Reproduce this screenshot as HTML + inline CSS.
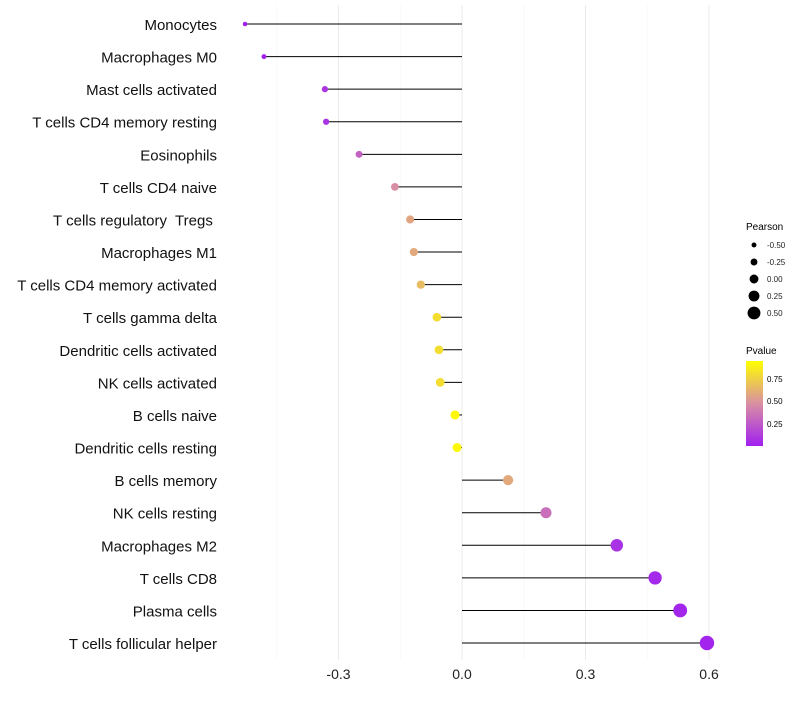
<!DOCTYPE html>
<html><head><meta charset="utf-8"><style>
body{margin:0;background:#fff;font-family:"Liberation Sans",sans-serif}
svg text{font-family:"Liberation Sans",sans-serif}
</style></head><body>
<svg id="chart" width="800" height="700" xmlns="http://www.w3.org/2000/svg">
<defs><linearGradient id="pg" x1="0" y1="1" x2="0" y2="0">
<stop offset="0" stop-color="#a020f0"/><stop offset="0.5" stop-color="#d98fa3"/><stop offset="1" stop-color="#ffff00"/>
</linearGradient></defs>
<g id="grid"></g><g id="marks"></g><g id="labels"></g><g id="xaxis"></g>
<g>
<text x="746" y="230" font-size="10">Pearson</text>
<g id="sizeLegend"></g>
<text x="746" y="354" font-size="10">Pvalue</text>
<rect x="746" y="361" width="17" height="85" fill="url(#pg)"/>
<text x="767" y="382" font-size="8">0.75</text>
<text x="767" y="404" font-size="8">0.50</text>
<text x="767" y="427" font-size="8">0.25</text>
</g>
</svg>
<script>
const categories=["Monocytes","Macrophages M0","Mast cells activated","T cells CD4 memory resting","Eosinophils","T cells CD4 naive","T cells regulatory  Tregs ","Macrophages M1","T cells CD4 memory activated","T cells gamma delta","Dendritic cells activated","NK cells activated","B cells naive","Dendritic cells resting","B cells memory","NK cells resting","Macrophages M2","T cells CD8","Plasma cells","T cells follicular helper"];
const pearson=[-0.527,-0.481,-0.333,-0.330,-0.250,-0.163,-0.126,-0.117,-0.100,-0.061,-0.056,-0.053,-0.017,-0.012,0.112,0.204,0.376,0.469,0.530,0.595];
const pvalue=[0.01,0.02,0.1,0.1,0.3,0.5,0.6,0.62,0.7,0.85,0.85,0.85,0.97,0.97,0.62,0.35,0.08,0.04,0.03,0.02];
const xTicks=[-0.3,0.0,0.3,0.6];
const xTickLabels=["-0.3","0.0","0.3","0.6"];
const minorTicks=[-0.45,-0.15,0.15,0.45];
const sizeLegendVals=[-0.5,-0.25,0,0.25,0.5];
const sizeLegendLabels=["-0.50","-0.25","0.00","0.25","0.50"];
const NS="http://www.w3.org/2000/svg";
const x=v=>462+v*411.7;
const y=i=>24+i*32.58;
const r=v=>4.6+4.4*v;
function col(p){
  const a=[160,32,240],m=[217,143,163],b=[255,255,0];
  let c;
  if(p<0.5){const t=p/0.5;c=a.map((v,k)=>v+(m[k]-v)*t);}else{const t=(p-0.5)/0.5;c=m.map((v,k)=>v+(b[k]-v)*t);}
  return `rgb(${c.map(Math.round).join(",")})`;
}
function mk(tag,at,parent){const e=document.createElementNS(NS,tag);for(const k in at)e.setAttribute(k,at[k]);document.getElementById(parent).appendChild(e);return e;}
minorTicks.forEach(t=>{const l=mk("line",{x1:x(t),x2:x(t),y1:5,y2:660,stroke:"#f5f5f5","stroke-width":0.6},"grid");

});
xTicks.forEach((t,i)=>{const l=mk("line",{x1:x(t),x2:x(t),y1:5,y2:660,stroke:"#ebebeb","stroke-width":1},"grid");


const tx=mk("text",{x:x(t),y:679,"font-size":14,"text-anchor":"middle",fill:"#222"},"xaxis");tx.textContent=xTickLabels[i];

});
categories.forEach((c,i)=>{
  const l=mk("line",{x1:x(0),x2:x(pearson[i]),y1:y(i),y2:y(i),stroke:"#000","stroke-width":1},"marks");
  
  
  const d=mk("circle",{cx:x(pearson[i]),cy:y(i),r:r(pearson[i]),fill:col(pvalue[i])},"marks");
  
  
  const t=mk("text",{x:217,y:y(i)+6,"font-size":15,"text-anchor":"end",fill:"#111"},"labels");
  t.textContent=c;t.setAttribute("xml:space","preserve");t.style.whiteSpace="pre";
  
  
});
sizeLegendVals.forEach((v,i)=>{
  const cy=245+i*17;
  const d=mk("circle",{cx:754,cy:cy,r:r(v)*0.9+0.3,fill:"#000"},"sizeLegend");
  
  
  const t=mk("text",{x:767,y:cy+3,"font-size":8,fill:"#222"},"sizeLegend");t.textContent=sizeLegendLabels[i];
  
  
});
</script>
</body></html>
